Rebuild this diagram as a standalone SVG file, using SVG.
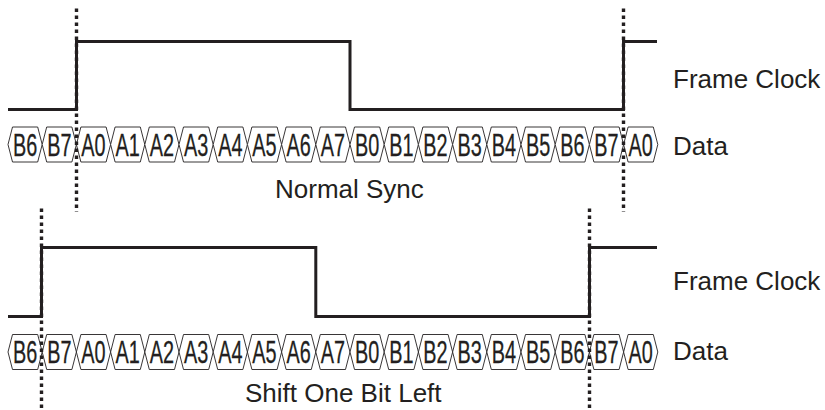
<svg xmlns="http://www.w3.org/2000/svg" xmlns:xlink="http://www.w3.org/1999/xlink" width="825" height="410" viewBox="0 0 825 410">
<style>
.clk{fill:none;stroke:#231f20;stroke-width:3;stroke-linejoin:miter}
.dot{fill:none;stroke:#231f20;stroke-width:3.4;stroke-dasharray:3.4 3.6}
.hex{fill:#fff;stroke:#231f20;stroke-width:0.9}
.c{font-family:"Liberation Sans",Arial,sans-serif;font-size:31px;fill:#231f20;stroke:#231f20;stroke-width:0.3;text-anchor:middle}
.lbl{font-family:"Liberation Sans",Arial,sans-serif;font-size:26px;fill:#231f20}
</style>
<defs>
<polygon id="cell" class="hex" points="0,17.5 4.5,0 29.7,0 34.2,17.5 29.7,35 4.5,35"/>
</defs>
<rect width="825" height="410" fill="#fff"/>

<g id="top-data">
<use href="#cell" x="8" y="127"/><use href="#cell" x="42.2" y="127"/><use href="#cell" x="76.4" y="127"/><use href="#cell" x="110.6" y="127"/><use href="#cell" x="144.8" y="127"/><use href="#cell" x="179" y="127"/><use href="#cell" x="213.2" y="127"/><use href="#cell" x="247.4" y="127"/><use href="#cell" x="281.6" y="127"/><use href="#cell" x="315.8" y="127"/><use href="#cell" x="350" y="127"/><use href="#cell" x="384.2" y="127"/><use href="#cell" x="418.4" y="127"/><use href="#cell" x="452.6" y="127"/><use href="#cell" x="486.8" y="127"/><use href="#cell" x="521" y="127"/><use href="#cell" x="555.2" y="127"/><use href="#cell" x="589.4" y="127"/><use href="#cell" x="623.6" y="127"/>
<g class="c" transform="scale(0.64,1)">
<text x="39.22" y="155.8">B6</text>
<text x="92.66" y="155.8">B7</text>
<text x="146.09" y="155.8">A0</text>
<text x="199.53" y="155.8">A1</text>
<text x="252.97" y="155.8">A2</text>
<text x="306.41" y="155.8">A3</text>
<text x="359.84" y="155.8">A4</text>
<text x="413.28" y="155.8">A5</text>
<text x="466.72" y="155.8">A6</text>
<text x="520.16" y="155.8">A7</text>
<text x="573.59" y="155.8">B0</text>
<text x="627.03" y="155.8">B1</text>
<text x="680.47" y="155.8">B2</text>
<text x="733.91" y="155.8">B3</text>
<text x="787.34" y="155.8">B4</text>
<text x="840.78" y="155.8">B5</text>
<text x="894.22" y="155.8">B6</text>
<text x="947.66" y="155.8">B7</text>
<text x="1001.09" y="155.8">A0</text>
</g>
</g>

<g id="bottom-data">
<use href="#cell" x="8" y="334.5"/><use href="#cell" x="42.2" y="334.5"/><use href="#cell" x="76.4" y="334.5"/><use href="#cell" x="110.6" y="334.5"/><use href="#cell" x="144.8" y="334.5"/><use href="#cell" x="179" y="334.5"/><use href="#cell" x="213.2" y="334.5"/><use href="#cell" x="247.4" y="334.5"/><use href="#cell" x="281.6" y="334.5"/><use href="#cell" x="315.8" y="334.5"/><use href="#cell" x="350" y="334.5"/><use href="#cell" x="384.2" y="334.5"/><use href="#cell" x="418.4" y="334.5"/><use href="#cell" x="452.6" y="334.5"/><use href="#cell" x="486.8" y="334.5"/><use href="#cell" x="521" y="334.5"/><use href="#cell" x="555.2" y="334.5"/><use href="#cell" x="589.4" y="334.5"/><use href="#cell" x="623.6" y="334.5"/>
<g class="c" transform="scale(0.64,1)">
<text x="39.22" y="363.3">B6</text>
<text x="92.66" y="363.3">B7</text>
<text x="146.09" y="363.3">A0</text>
<text x="199.53" y="363.3">A1</text>
<text x="252.97" y="363.3">A2</text>
<text x="306.41" y="363.3">A3</text>
<text x="359.84" y="363.3">A4</text>
<text x="413.28" y="363.3">A5</text>
<text x="466.72" y="363.3">A6</text>
<text x="520.16" y="363.3">A7</text>
<text x="573.59" y="363.3">B0</text>
<text x="627.03" y="363.3">B1</text>
<text x="680.47" y="363.3">B2</text>
<text x="733.91" y="363.3">B3</text>
<text x="787.34" y="363.3">B4</text>
<text x="840.78" y="363.3">B5</text>
<text x="894.22" y="363.3">B6</text>
<text x="947.66" y="363.3">B7</text>
<text x="1001.09" y="363.3">A0</text>
</g>
</g>

<g id="top-clock">
<path class="clk" d="M8,109.5 H76.5 V41.5 H350 V109.5 H623.5 V41.5 H657"/>
</g>
<g id="bottom-clock">
<path class="clk" d="M8,316.5 H41.5 V247.5 H315.8 V316.5 H589.5 V247.5 H657"/>
</g>

<g id="markers">
<line class="dot" x1="76.5" y1="8.5" x2="76.5" y2="212"/>
<line class="dot" x1="623.5" y1="8.5" x2="623.5" y2="212"/>
<line class="dot" x1="41.5" y1="208.5" x2="41.5" y2="410"/>
<line class="dot" x1="589.5" y1="208.5" x2="589.5" y2="410"/>
</g>

<g id="labels" class="lbl">
<text x="673" y="88">Frame Clock</text>
<text x="673" y="155">Data</text>
<text x="275" y="198">Normal Sync</text>
<text x="673" y="290">Frame Clock</text>
<text x="673" y="360">Data</text>
<text x="245" y="402">Shift One Bit Left</text>
</g>
</svg>
